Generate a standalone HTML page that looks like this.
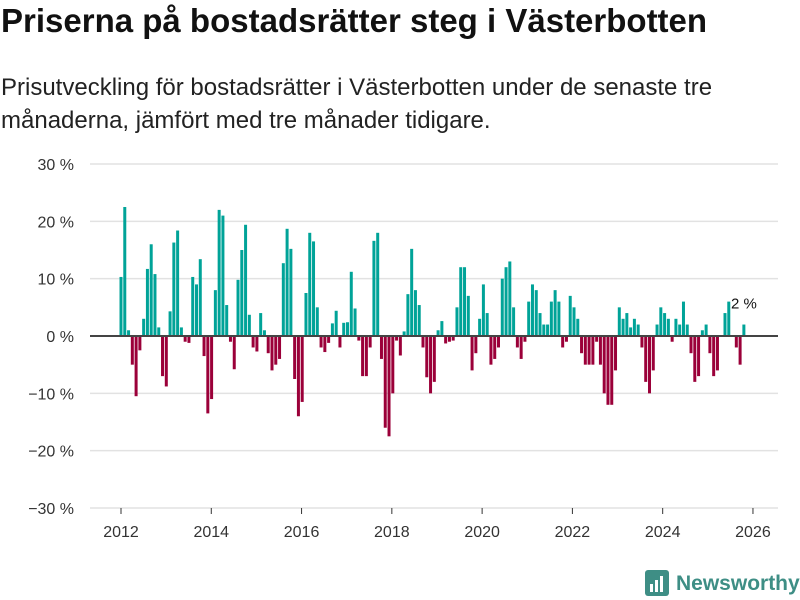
<!DOCTYPE html>
<html><head><meta charset="utf-8"><style>
body{margin:0;width:800px;height:600px;background:#fff;font-family:"Liberation Sans",sans-serif;overflow:hidden;position:relative}
#title{position:absolute;left:1px;top:2px;font-size:33px;font-weight:bold;color:#111;margin:0;white-space:nowrap}
#sub{position:absolute;left:1px;top:71px;font-size:24px;line-height:33px;color:#222;width:760px}
svg{position:absolute;left:0;top:0}
</style></head><body>
<h1 id="title">Priserna på bostadsrätter steg i Västerbotten</h1>
<div id="sub">Prisutveckling för bostadsrätter i Västerbotten under de senaste tre månaderna, jämfört med tre månader tidigare.</div>
<svg id="c" width="800" height="600"></svg>
<script>
const yTicks=[30,20,10,0,-10,-20,-30];
const xYears=[2012,2014,2016,2018,2020,2022,2024,2026];
const values=[10.3,22.5,1,-5,-10.5,-2.5,3,11.7,16,10.8,1.5,-7,-8.8,4.3,16.3,18.4,1.5,-1,-1.2,10.3,9,13.4,-3.5,-13.5,-11,8,22,21,
5.4,-1,-5.8,9.8,15,19.4,3.7,-2,-2.7,4,1,-3,-6,-5,-4,12.7,18.7,15.2,-7.5,-14,-11.5,7.5,18,16.5,5,-2,-2.8,-1.2,2.2,4.4,
-2,2.3,2.4,11.2,4.8,-0.8,-7,-7,-2,16.6,18,-4,-16,-17.5,-10,-0.8,-3.4,0.8,7.3,15.2,8,5.4,-2,-7.2,-10,-8,
1,2.6,-1.3,-1,-0.8,5,12,12,7,-6,-3,3,9,4,-5,-4,-2,10,12,13,5,-2,-4,-1,6,9,8,4,2,2,6,8,6,-2,-1,7,5,3,-3,-5,-5,-5,-1,-5,-10,-12,-12,-6,5,3,4,1.5,3,2,-2,-8,-10,-6,2,5,4,3,-1,3,2,6,2,-3,-8,-7,1,2,-3,-7,-6,0,4,6,0,-2,-5,2];
const startYear=2012;
const lastLabel="2 %";
const NS="http://www.w3.org/2000/svg";
const svg=document.getElementById('c');
function y(v){return 336-v*5.733;}
function x(yr){return 121+(yr-2012)*45.14;}
function mk(t,a,p){const e=document.createElementNS(NS,t);for(const k in a)e.setAttribute(k,a[k]);(p||svg).appendChild(e);return e;}
yTicks.forEach(t=>{
  if(t!==0){const l=mk('line',{x1:90,x2:778,y1:y(t),y2:y(t),stroke:'#e2e2e2','stroke-width':1.5});
  
  }
  const tx=mk('text',{x:74,y:y(t)+6,'text-anchor':'end','font-size':16,fill:'#333','font-family':'Liberation Sans, sans-serif'});
  tx.textContent=(t<0?'\u2212':'')+Math.abs(t)+' %';
  
  
});
xYears.forEach(yr=>{
  const tk=mk('line',{x1:x(yr),x2:x(yr),y1:508,y2:514,stroke:'#333','stroke-width':1});
  
  
  const tx=mk('text',{x:x(yr),y:537,'text-anchor':'middle','font-size':16,fill:'#333','font-family':'Liberation Sans, sans-serif'});
  tx.textContent=yr;
  
  
});
const mw=45.3/12;
values.forEach((v,i)=>{
  const cx=x(startYear)+i*mw;
  const r=mk('rect',{x:cx-1.5,width:3,y:Math.min(y(v),336),height:Math.abs(y(v)-336),fill:v>=0?'#00a398':'#9b0039'});
  
  
});
const z=mk('line',{x1:90,x2:778,y1:336,y2:336,stroke:'#444','stroke-width':2});


const li=values.length-1;
const lb=mk('text',{x:x(startYear)+li*mw,y:y(Math.max(values[li],0))-16,'text-anchor':'middle','font-size':15,fill:'#111','font-family':'Liberation Sans, sans-serif'});
lb.textContent=lastLabel;


const g=mk('g',{});


mk('rect',{x:645,y:570,width:24,height:26,rx:3,fill:'#3e8e85'},g);
mk('rect',{x:650,y:584,width:3,height:8,fill:'#fff'},g);
mk('rect',{x:655,y:580,width:3,height:12,fill:'#fff'},g);
mk('rect',{x:660,y:576,width:3,height:16,fill:'#fff'},g);
const lt=mk('text',{x:676,y:590,'font-size':21,'font-weight':'bold',fill:'#3e8e85','font-family':'Liberation Sans, sans-serif'},g);
lt.textContent='Newsworthy';
</script>
</body></html>
